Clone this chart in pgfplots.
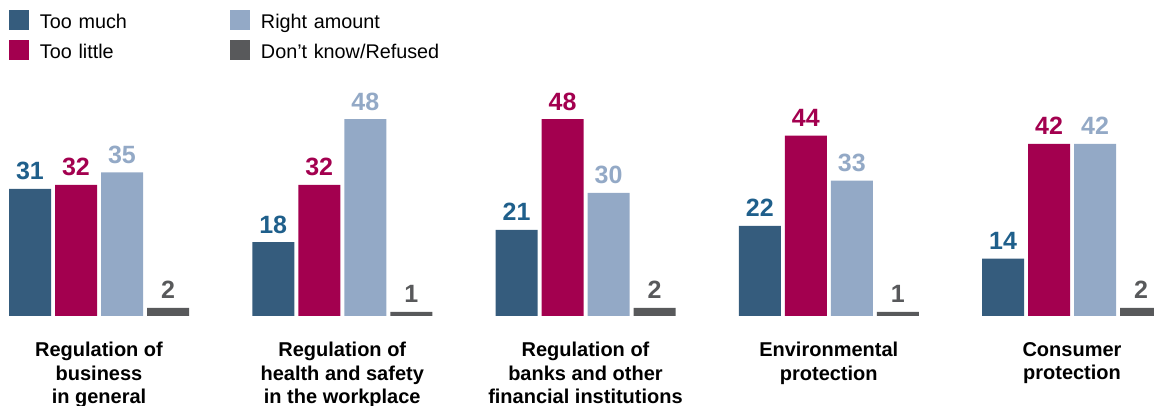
\documentclass[border=0pt]{standalone}
\usepackage{pgfplots}
\pgfplotsset{compat=1.18}
\usepackage{fontspec}
\setmainfont{Liberation Sans}
\definecolor{cMuch}{HTML}{355C7D}
\definecolor{cMuchT}{HTML}{1F5F8B}
\definecolor{cLittle}{HTML}{A3004F}
\definecolor{cRight}{HTML}{93A9C6}
\definecolor{cDK}{HTML}{58595B}
\begin{document}
\begin{tikzpicture}[x=1pt,y=1pt]
\useasboundingbox (0,-90) rectangle (1154,316);
\begin{axis}[
  at={(0pt,0pt)}, anchor=south west,
  width=1154pt, height=316pt, scale only axis,
  xmin=0, xmax=1154, ymin=0, ymax=77.07,
  axis line style={draw=none},
  major tick length=0pt,
  ytick=\empty,
  xtick={99,342.25,585.5,828.75,1072},
  xticklabels={{Regulation of\\business\\in general},
               {Regulation of\\health and safety\\in the workplace},
               {Regulation of\\banks and other\\financial institutions},
               {Environmental\\protection},
               {Consumer\\protection}},
  xticklabel style={align=center, font=\bfseries\fontsize{20}{23.5}\selectfont,
                    inner sep=0pt, anchor=north, yshift=-26pt},
  ybar, bar width=42, bar shift=0pt,
  /pgf/number format/assume math mode=true,
  nodes near coords,
  nodes near coords style={font=\bfseries\fontsize{25}{25}\selectfont,
        anchor=base, inner sep=0pt, yshift=9pt},
  legend columns=2, transpose legend,
  legend image code/.code={\fill[#1] (0pt,-2pt) rectangle (20pt,18pt);},
  legend cell align=left,
  legend style={at={(0.0078,0.9674)}, anchor=north west, draw=none, fill=none,
     inner sep=0pt, outer sep=0pt, row sep=8pt,
     nodes={inner sep=0pt, text height=14pt, text depth=4pt, text width=190pt,
            anchor=base west, font=\fontsize{19.8}{19.8}\selectfont},
     /tikz/every odd column/.append style={column sep=11pt},
     /tikz/every even column/.append style={column sep=0pt}},
]
\addplot[fill=cMuch, draw=none, bar shift=0pt,
  every node near coord/.append style={text=cMuchT}]
  coordinates {(30,31) (273.25,18) (516.5,21) (759.75,22) (1003,14)};
\addlegendentry{Too much}
\addplot[fill=cLittle, draw=none, bar shift=0pt,
  every node near coord/.append style={text=cLittle}]
  coordinates {(76,32) (319.25,32) (562.5,48) (805.75,44) (1049,42)};
\addlegendentry{Too little}
\addplot[fill=cRight, draw=none, bar shift=0pt,
  every node near coord/.append style={text=cRight}]
  coordinates {(122,35) (365.25,48) (608.5,30) (851.75,33) (1095,42)};
\addlegendentry{Right amount}
\addplot[fill=cDK, draw=none, bar shift=0pt,
  every node near coord/.append style={text=cDK}]
  coordinates {(168,2) (411.25,1) (654.5,2) (897.75,1) (1141,2)};
\addlegendentry{Don’t know/Refused}
\end{axis}
\end{tikzpicture}
\end{document}
